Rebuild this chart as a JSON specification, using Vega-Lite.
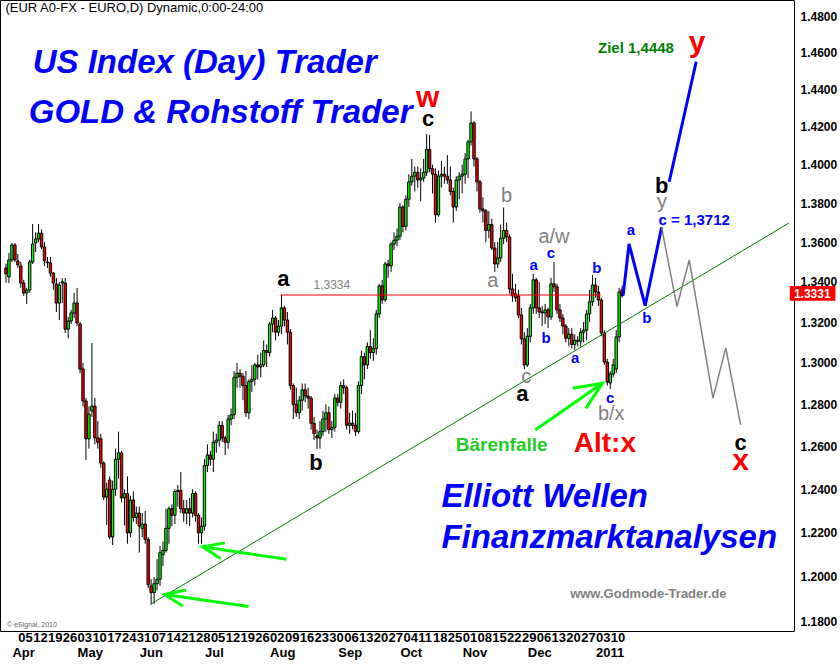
{
"$schema":"https://vega.github.io/schema/vega-lite/v6.json",
"width":794,"height":631,
"autosize":{"type":"none"},
"padding":{"left":0,"top":0,"right":46,"bottom":34},
"background":"white",
"config":{"view":{"stroke":"black","strokeWidth":1},"font":"Liberation Sans","text":{"font":"Liberation Sans"}},
"datasets":{
"candles":[
{"i":1,"o":1.347,"h":1.349,"l":1.3395,"c":1.344},
{"i":2,"o":1.3424,"h":1.3545,"l":1.3394,"c":1.351},
{"i":3,"o":1.351,"h":1.3596,"l":1.35,"c":1.3586},
{"i":4,"o":1.3586,"h":1.3596,"l":1.35,"c":1.351},
{"i":5,"o":1.3505,"h":1.354,"l":1.347,"c":1.3485},
{"i":6,"o":1.348,"h":1.35,"l":1.337,"c":1.3394},
{"i":7,"o":1.3394,"h":1.341,"l":1.333,"c":1.3344},
{"i":8,"o":1.3344,"h":1.337,"l":1.329,"c":1.3359},
{"i":9,"o":1.3359,"h":1.351,"l":1.3345,"c":1.35},
{"i":10,"o":1.35,"h":1.3693,"l":1.349,"c":1.3591},
{"i":11,"o":1.3596,"h":1.365,"l":1.355,"c":1.3616},
{"i":12,"o":1.3616,"h":1.3693,"l":1.36,"c":1.3646},
{"i":13,"o":1.3646,"h":1.3665,"l":1.3565,"c":1.3576},
{"i":14,"o":1.3576,"h":1.36,"l":1.348,"c":1.3505},
{"i":15,"o":1.35,"h":1.3525,"l":1.347,"c":1.3496},
{"i":16,"o":1.3495,"h":1.3525,"l":1.3425,"c":1.3444},
{"i":17,"o":1.3444,"h":1.345,"l":1.336,"c":1.3394},
{"i":18,"o":1.3389,"h":1.3419,"l":1.325,"c":1.3294},
{"i":19,"o":1.3294,"h":1.34,"l":1.321,"c":1.3384},
{"i":20,"o":1.3394,"h":1.3419,"l":1.3294,"c":1.34},
{"i":21,"o":1.3394,"h":1.3419,"l":1.3146,"c":1.3165},
{"i":22,"o":1.3165,"h":1.3225,"l":1.312,"c":1.3205},
{"i":23,"o":1.3205,"h":1.326,"l":1.319,"c":1.3245},
{"i":24,"o":1.3245,"h":1.3344,"l":1.322,"c":1.3294},
{"i":25,"o":1.3294,"h":1.3369,"l":1.318,"c":1.3195},
{"i":26,"o":1.319,"h":1.32,"l":1.295,"c":1.297},
{"i":27,"o":1.297,"h":1.3,"l":1.279,"c":1.2816},
{"i":28,"o":1.2816,"h":1.283,"l":1.2536,"c":1.2636},
{"i":29,"o":1.2636,"h":1.279,"l":1.259,"c":1.2754},
{"i":30,"o":1.2768,"h":1.3097,"l":1.274,"c":1.2792},
{"i":31,"o":1.2792,"h":1.283,"l":1.261,"c":1.2641},
{"i":32,"o":1.2641,"h":1.272,"l":1.259,"c":1.262},
{"i":33,"o":1.2636,"h":1.266,"l":1.25,"c":1.2522},
{"i":34,"o":1.2522,"h":1.253,"l":1.235,"c":1.2364},
{"i":35,"o":1.2364,"h":1.243,"l":1.2235,"c":1.2401},
{"i":36,"o":1.2443,"h":1.246,"l":1.217,"c":1.2181},
{"i":37,"o":1.2181,"h":1.244,"l":1.2144,"c":1.24},
{"i":38,"o":1.24,"h":1.259,"l":1.237,"c":1.254},
{"i":39,"o":1.254,"h":1.267,"l":1.245,"c":1.257},
{"i":40,"o":1.257,"h":1.258,"l":1.234,"c":1.236},
{"i":41,"o":1.236,"h":1.24,"l":1.2234,"c":1.238},
{"i":42,"o":1.238,"h":1.246,"l":1.215,"c":1.22},
{"i":43,"o":1.22,"h":1.237,"l":1.218,"c":1.235},
{"i":44,"o":1.235,"h":1.239,"l":1.225,"c":1.227},
{"i":45,"o":1.227,"h":1.232,"l":1.224,"c":1.229},
{"i":46,"o":1.229,"h":1.232,"l":1.211,"c":1.223},
{"i":47,"o":1.222,"h":1.229,"l":1.218,"c":1.224},
{"i":48,"o":1.224,"h":1.23,"l":1.215,"c":1.217},
{"i":49,"o":1.217,"h":1.218,"l":1.195,"c":1.1965},
{"i":50,"o":1.196,"h":1.199,"l":1.1876,"c":1.193},
{"i":51,"o":1.193,"h":1.2,"l":1.188,"c":1.197},
{"i":52,"o":1.197,"h":1.208,"l":1.194,"c":1.199},
{"i":53,"o":1.199,"h":1.214,"l":1.196,"c":1.211},
{"i":54,"o":1.21,"h":1.216,"l":1.205,"c":1.212},
{"i":55,"o":1.212,"h":1.231,"l":1.211,"c":1.222},
{"i":56,"o":1.222,"h":1.232,"l":1.215,"c":1.231},
{"i":57,"o":1.231,"h":1.233,"l":1.223,"c":1.228},
{"i":58,"o":1.228,"h":1.24,"l":1.224,"c":1.239},
{"i":59,"o":1.239,"h":1.242,"l":1.232,"c":1.2395},
{"i":60,"o":1.2395,"h":1.248,"l":1.229,"c":1.231},
{"i":61,"o":1.231,"h":1.235,"l":1.225,"c":1.229},
{"i":62,"o":1.229,"h":1.235,"l":1.224,"c":1.231},
{"i":63,"o":1.231,"h":1.236,"l":1.223,"c":1.229},
{"i":64,"o":1.229,"h":1.24,"l":1.227,"c":1.238},
{"i":65,"o":1.238,"h":1.239,"l":1.225,"c":1.228},
{"i":66,"o":1.228,"h":1.229,"l":1.215,"c":1.22},
{"i":67,"o":1.22,"h":1.227,"l":1.215,"c":1.223},
{"i":68,"o":1.223,"h":1.254,"l":1.221,"c":1.251},
{"i":69,"o":1.251,"h":1.261,"l":1.248,"c":1.256},
{"i":70,"o":1.256,"h":1.258,"l":1.251,"c":1.254},
{"i":71,"o":1.254,"h":1.267,"l":1.248,"c":1.262},
{"i":72,"o":1.262,"h":1.266,"l":1.257,"c":1.263},
{"i":73,"o":1.263,"h":1.272,"l":1.26,"c":1.27},
{"i":74,"o":1.27,"h":1.272,"l":1.262,"c":1.264},
{"i":75,"o":1.264,"h":1.265,"l":1.256,"c":1.262},
{"i":76,"o":1.262,"h":1.275,"l":1.259,"c":1.273},
{"i":77,"o":1.273,"h":1.278,"l":1.27,"c":1.275},
{"i":78,"o":1.275,"h":1.296,"l":1.273,"c":1.293},
{"i":79,"o":1.293,"h":1.3,"l":1.288,"c":1.295},
{"i":80,"o":1.295,"h":1.297,"l":1.288,"c":1.2935},
{"i":81,"o":1.2935,"h":1.295,"l":1.282,"c":1.289},
{"i":82,"o":1.289,"h":1.296,"l":1.274,"c":1.276},
{"i":83,"o":1.276,"h":1.292,"l":1.273,"c":1.291},
{"i":84,"o":1.291,"h":1.299,"l":1.286,"c":1.292},
{"i":85,"o":1.292,"h":1.3,"l":1.289,"c":1.299},
{"i":86,"o":1.299,"h":1.304,"l":1.292,"c":1.298},
{"i":87,"o":1.298,"h":1.305,"l":1.293,"c":1.299},
{"i":88,"o":1.299,"h":1.311,"l":1.298,"c":1.306},
{"i":89,"o":1.306,"h":1.309,"l":1.298,"c":1.305},
{"i":90,"o":1.305,"h":1.32,"l":1.303,"c":1.319},
{"i":91,"o":1.319,"h":1.326,"l":1.315,"c":1.322},
{"i":92,"o":1.322,"h":1.323,"l":1.311,"c":1.315},
{"i":93,"o":1.315,"h":1.321,"l":1.313,"c":1.318},
{"i":94,"o":1.318,"h":1.3334,"l":1.314,"c":1.327},
{"i":95,"o":1.327,"h":1.328,"l":1.318,"c":1.321},
{"i":96,"o":1.321,"h":1.325,"l":1.309,"c":1.315},
{"i":97,"o":1.315,"h":1.3165,"l":1.287,"c":1.289},
{"i":98,"o":1.289,"h":1.29,"l":1.273,"c":1.28},
{"i":99,"o":1.28,"h":1.288,"l":1.274,"c":1.276},
{"i":100,"o":1.276,"h":1.284,"l":1.273,"c":1.282},
{"i":101,"o":1.282,"h":1.29,"l":1.277,"c":1.287},
{"i":102,"o":1.287,"h":1.29,"l":1.281,"c":1.284},
{"i":103,"o":1.284,"h":1.288,"l":1.278,"c":1.283},
{"i":104,"o":1.283,"h":1.284,"l":1.268,"c":1.271},
{"i":105,"o":1.271,"h":1.274,"l":1.263,"c":1.266},
{"i":106,"o":1.265,"h":1.268,"l":1.2588,"c":1.264},
{"i":107,"o":1.264,"h":1.272,"l":1.259,"c":1.267},
{"i":108,"o":1.267,"h":1.277,"l":1.265,"c":1.273},
{"i":109,"o":1.273,"h":1.28,"l":1.267,"c":1.276},
{"i":110,"o":1.276,"h":1.279,"l":1.266,"c":1.268},
{"i":111,"o":1.268,"h":1.272,"l":1.264,"c":1.269},
{"i":112,"o":1.269,"h":1.285,"l":1.267,"c":1.283},
{"i":113,"o":1.283,"h":1.285,"l":1.279,"c":1.281},
{"i":114,"o":1.281,"h":1.291,"l":1.278,"c":1.289},
{"i":115,"o":1.289,"h":1.292,"l":1.285,"c":1.288},
{"i":116,"o":1.288,"h":1.289,"l":1.268,"c":1.27},
{"i":117,"o":1.27,"h":1.276,"l":1.266,"c":1.271},
{"i":118,"o":1.271,"h":1.277,"l":1.268,"c":1.27},
{"i":119,"o":1.27,"h":1.276,"l":1.265,"c":1.267},
{"i":120,"o":1.267,"h":1.291,"l":1.266,"c":1.289},
{"i":121,"o":1.289,"h":1.306,"l":1.285,"c":1.303},
{"i":122,"o":1.303,"h":1.305,"l":1.292,"c":1.299},
{"i":123,"o":1.299,"h":1.31,"l":1.297,"c":1.308},
{"i":124,"o":1.308,"h":1.316,"l":1.302,"c":1.305},
{"i":125,"o":1.305,"h":1.312,"l":1.301,"c":1.307},
{"i":126,"o":1.307,"h":1.326,"l":1.304,"c":1.324},
{"i":127,"o":1.324,"h":1.339,"l":1.322,"c":1.338},
{"i":128,"o":1.338,"h":1.341,"l":1.329,"c":1.331},
{"i":129,"o":1.331,"h":1.35,"l":1.33,"c":1.349},
{"i":130,"o":1.349,"h":1.351,"l":1.342,"c":1.348},
{"i":131,"o":1.348,"h":1.36,"l":1.345,"c":1.359},
{"i":132,"o":1.359,"h":1.365,"l":1.356,"c":1.361},
{"i":133,"o":1.361,"h":1.367,"l":1.358,"c":1.363},
{"i":134,"o":1.363,"h":1.38,"l":1.361,"c":1.378},
{"i":135,"o":1.378,"h":1.379,"l":1.365,"c":1.368},
{"i":136,"o":1.368,"h":1.384,"l":1.366,"c":1.382},
{"i":137,"o":1.382,"h":1.395,"l":1.378,"c":1.391},
{"i":138,"o":1.391,"h":1.403,"l":1.389,"c":1.394},
{"i":139,"o":1.394,"h":1.399,"l":1.386,"c":1.396},
{"i":140,"o":1.396,"h":1.399,"l":1.388,"c":1.392},
{"i":141,"o":1.392,"h":1.398,"l":1.381,"c":1.393},
{"i":142,"o":1.393,"h":1.403,"l":1.391,"c":1.396},
{"i":143,"o":1.396,"h":1.416,"l":1.394,"c":1.408},
{"i":144,"o":1.408,"h":1.4157,"l":1.396,"c":1.398},
{"i":145,"o":1.398,"h":1.4,"l":1.385,"c":1.395},
{"i":146,"o":1.395,"h":1.398,"l":1.37,"c":1.374},
{"i":147,"o":1.374,"h":1.397,"l":1.373,"c":1.394},
{"i":148,"o":1.394,"h":1.402,"l":1.388,"c":1.395},
{"i":149,"o":1.395,"h":1.399,"l":1.39,"c":1.394},
{"i":150,"o":1.394,"h":1.405,"l":1.39,"c":1.392},
{"i":151,"o":1.392,"h":1.399,"l":1.384,"c":1.386},
{"i":152,"o":1.386,"h":1.388,"l":1.37,"c":1.378},
{"i":153,"o":1.378,"h":1.394,"l":1.376,"c":1.392},
{"i":154,"o":1.392,"h":1.396,"l":1.382,"c":1.394},
{"i":155,"o":1.394,"h":1.4,"l":1.385,"c":1.395},
{"i":156,"o":1.395,"h":1.406,"l":1.39,"c":1.403},
{"i":157,"o":1.403,"h":1.413,"l":1.393,"c":1.412},
{"i":158,"o":1.412,"h":1.4282,"l":1.41,"c":1.422},
{"i":159,"o":1.422,"h":1.423,"l":1.399,"c":1.403},
{"i":160,"o":1.403,"h":1.404,"l":1.386,"c":1.391},
{"i":161,"o":1.391,"h":1.392,"l":1.375,"c":1.377},
{"i":162,"o":1.377,"h":1.383,"l":1.37,"c":1.376},
{"i":163,"o":1.376,"h":1.377,"l":1.36,"c":1.366},
{"i":164,"o":1.366,"h":1.376,"l":1.362,"c":1.369},
{"i":165,"o":1.369,"h":1.372,"l":1.356,"c":1.357},
{"i":166,"o":1.357,"h":1.36,"l":1.345,"c":1.349},
{"i":167,"o":1.349,"h":1.36,"l":1.347,"c":1.352},
{"i":168,"o":1.352,"h":1.369,"l":1.35,"c":1.362},
{"i":169,"o":1.362,"h":1.3778,"l":1.359,"c":1.366},
{"i":170,"o":1.366,"h":1.37,"l":1.36,"c":1.3627},
{"i":171,"o":1.3627,"h":1.364,"l":1.334,"c":1.3364},
{"i":172,"o":1.3364,"h":1.344,"l":1.33,"c":1.333},
{"i":173,"o":1.334,"h":1.339,"l":1.33,"c":1.332},
{"i":174,"o":1.333,"h":1.336,"l":1.322,"c":1.3235},
{"i":175,"o":1.3235,"h":1.327,"l":1.309,"c":1.3117},
{"i":176,"o":1.3117,"h":1.315,"l":1.2969,"c":1.299},
{"i":177,"o":1.299,"h":1.317,"l":1.298,"c":1.313},
{"i":178,"o":1.313,"h":1.329,"l":1.31,"c":1.327},
{"i":179,"o":1.327,"h":1.344,"l":1.324,"c":1.341},
{"i":180,"o":1.341,"h":1.342,"l":1.324,"c":1.327},
{"i":181,"o":1.327,"h":1.34,"l":1.322,"c":1.325},
{"i":182,"o":1.325,"h":1.328,"l":1.318,"c":1.3245},
{"i":183,"o":1.3245,"h":1.329,"l":1.319,"c":1.326},
{"i":184,"o":1.326,"h":1.327,"l":1.317,"c":1.3225},
{"i":185,"o":1.3225,"h":1.342,"l":1.321,"c":1.339},
{"i":186,"o":1.339,"h":1.35,"l":1.335,"c":1.3375},
{"i":187,"o":1.3375,"h":1.339,"l":1.324,"c":1.326},
{"i":188,"o":1.326,"h":1.329,"l":1.32,"c":1.322},
{"i":189,"o":1.322,"h":1.324,"l":1.314,"c":1.318},
{"i":190,"o":1.318,"h":1.319,"l":1.31,"c":1.312},
{"i":191,"o":1.312,"h":1.317,"l":1.308,"c":1.314},
{"i":192,"o":1.314,"h":1.317,"l":1.307,"c":1.309},
{"i":193,"o":1.309,"h":1.314,"l":1.3063,"c":1.311},
{"i":194,"o":1.311,"h":1.313,"l":1.308,"c":1.3105},
{"i":195,"o":1.3105,"h":1.317,"l":1.308,"c":1.315},
{"i":196,"o":1.315,"h":1.32,"l":1.31,"c":1.316},
{"i":197,"o":1.316,"h":1.326,"l":1.311,"c":1.324},
{"i":198,"o":1.324,"h":1.336,"l":1.32,"c":1.33},
{"i":199,"o":1.33,"h":1.3435,"l":1.328,"c":1.3384},
{"i":200,"o":1.3384,"h":1.342,"l":1.332,"c":1.3349},
{"i":201,"o":1.3349,"h":1.338,"l":1.328,"c":1.3309},
{"i":202,"o":1.3309,"h":1.332,"l":1.313,"c":1.3146},
{"i":203,"o":1.3146,"h":1.316,"l":1.299,"c":1.3004},
{"i":204,"o":1.3004,"h":1.302,"l":1.289,"c":1.2907},
{"i":205,"o":1.2903,"h":1.296,"l":1.2873,"c":1.2946},
{"i":206,"o":1.2946,"h":1.302,"l":1.293,"c":1.299},
{"i":207,"o":1.297,"h":1.316,"l":1.295,"c":1.3127},
{"i":208,"o":1.3127,"h":1.337,"l":1.31,"c":1.3349},
{"i":209,"o":1.336,"h":1.338,"l":1.332,"c":1.3331}
]
},
"layer":[
{"data":{"name":"candles"},
 "mark":{"type":"rule","color":"black","strokeWidth":1},
 "encoding":{
  "x":{"field":"i","type":"quantitative","scale":{"domain":[0.6667,265.3333],"nice":false,"zero":false},
   "axis":{"orient":"bottom","values":[5,10,15,20,25,30,35,40,45,50,55,60,65,70,75,80,85,90,95,100,105,110,115,120,125,130,135,140,145,150,155,160,165,170,175,180,185,190,195,200,205],
   "labelExpr":"['05','12','19','26','03','10','17','24','31','07','14','21','28','05','12','19','26','02','09','16','23','30','06','13','20','27','04','11','18','25','01','08','15','22','29','06','13','20','27','03','10'][datum.value/5-1]",
   "labelAlign":"left","labelFontSize":13,"labelFontWeight":"bold","labelColor":"black","labelFont":"Liberation Sans","ticks":false,"domain":false,"grid":false,"labelPadding":0,"title":null,"labelOverlap":false,"labelFlush":false,"labelBound":false}},
  "y":{"field":"l","type":"quantitative","scale":{"type":"log","domain":[1.17601,1.48888],"nice":false},
   "axis":{"orient":"right","values":[1.18,1.2,1.22,1.24,1.26,1.28,1.3,1.32,1.34,1.36,1.38,1.4,1.42,1.44,1.46,1.48],"format":".4f","labelFontSize":12,"labelFontWeight":"bold","labelColor":"black","labelFont":"Liberation Sans","ticks":false,"domain":false,"grid":false,"labelPadding":6,"title":null,"labelAlign":"left","labelBaseline":"middle","labelOverlap":false,"labelFlush":false}},
  "y2":{"field":"h"}}},
{"data":{"name":"candles"},
 "mark":{"type":"bar","size":2.4,"stroke":"black","strokeWidth":1},
 "encoding":{
  "x":{"field":"i","type":"quantitative","scale":{"domain":[0.6667,265.3333],"nice":false,"zero":false},
   "axis":{"orient":"bottom","offset":15,"values":[3,25,46,68,90,113,134,155,177,200],
   "labelExpr":"['Apr','May','Jun','Jul','Aug','Sep','Oct','Nov','Dec','2011'][indexof([3,25,46,68,90,113,134,155,177,200],datum.value)]",
   "labelAlign":"left","labelFontSize":13,"labelFontWeight":"bold","labelColor":"black","labelFont":"Liberation Sans","ticks":false,"domain":false,"grid":false,"labelPadding":0,"title":null,"labelOverlap":false,"labelFlush":false,"labelBound":false}},
  "y":{"field":"o","type":"quantitative","scale":{"type":"log","domain":[1.17601,1.48888],"nice":false},"axis":null},
  "y2":{"field":"c"},
  "fill":{"condition":{"test":"datum.c >= datum.o","value":"#00ff00"},"value":"#ff0000"}}},
{"data":{"values":[{"i":93.67,"p":1.3334},{"i":201.67,"p":1.3334}]},
 "mark":{"type":"line","color":"#ff0000","strokeWidth":1},
 "encoding":{"x":{"field":"i","type":"quantitative","scale":{"domain":[0.6667,265.3333],"nice":false,"zero":false},"axis":null},
  "y":{"field":"p","type":"quantitative","scale":{"type":"log","domain":[1.17601,1.48888],"nice":false},"axis":null}}},
{"data":{"values":[{"i":50,"p":1.188},{"i":265.33,"p":1.3698}]},
 "mark":{"type":"line","color":"#008000","strokeWidth":1},
 "encoding":{"x":{"field":"i","type":"quantitative","scale":{"domain":[0.6667,265.3333],"nice":false,"zero":false},"axis":null},
  "y":{"field":"p","type":"quantitative","scale":{"type":"log","domain":[1.17601,1.48888],"nice":false},"axis":null}}},
{"data":{"values":[
 {"s":"a1","k":1,"i":82.9,"p":1.1868},{"s":"a1","k":2,"i":54.57,"p":1.1922},
 {"s":"a2","k":1,"i":61.77,"p":1.1942},{"s":"a2","k":2,"i":54.57,"p":1.1922},{"s":"a2","k":3,"i":60.67,"p":1.1871},
 {"s":"b1","k":1,"i":95.67,"p":1.208},{"s":"b1","k":2,"i":67.33,"p":1.2136},
 {"s":"b2","k":1,"i":74.9,"p":1.2154},{"s":"b2","k":2,"i":67.33,"p":1.2136},{"s":"b2","k":3,"i":73.43,"p":1.2083},
 {"s":"c1","k":1,"i":179.67,"p":1.2678},{"s":"c1","k":2,"i":202.33,"p":1.2901},
 {"s":"c2","k":1,"i":192.33,"p":1.2877},{"s":"c2","k":2,"i":202.33,"p":1.2901},{"s":"c2","k":3,"i":196.77,"p":1.2781}]},
 "mark":{"type":"line","color":"#00ff00","strokeWidth":3},
 "encoding":{"x":{"field":"i","type":"quantitative","scale":{"domain":[0.6667,265.3333],"nice":false,"zero":false},"axis":null},
  "y":{"field":"p","type":"quantitative","scale":{"type":"log","domain":[1.17601,1.48888],"nice":false},"axis":null},
  "detail":{"field":"s"},"order":{"field":"k","type":"quantitative"}}},
{"data":{"values":[
 {"s":"1","k":1,"i":209.33,"p":1.3331},{"s":"1","k":2,"i":211.33,"p":1.3591},{"s":"1","k":3,"i":216.78,"p":1.3281},{"s":"1","k":4,"i":222.33,"p":1.3676},
 {"s":"2","k":1,"i":224.9,"p":1.3911},{"s":"2","k":2,"i":234,"p":1.4549}]},
 "mark":{"type":"line","color":"#0000ff","strokeWidth":3},
 "encoding":{"x":{"field":"i","type":"quantitative","scale":{"domain":[0.6667,265.3333],"nice":false,"zero":false},"axis":null},
  "y":{"field":"p","type":"quantitative","scale":{"type":"log","domain":[1.17601,1.48888],"nice":false},"axis":null},
  "detail":{"field":"s"},"order":{"field":"k","type":"quantitative"}}},
{"data":{"values":[
 {"k":1,"i":222.33,"p":1.3676},{"k":2,"i":227.5,"p":1.3277},{"k":3,"i":231.67,"p":1.351},{"k":4,"i":239.67,"p":1.283},{"k":5,"i":244,"p":1.3073},{"k":6,"i":249,"p":1.2702}]},
 "mark":{"type":"line","color":"#808080","strokeWidth":1.5},
 "encoding":{"x":{"field":"i","type":"quantitative","scale":{"domain":[0.6667,265.3333],"nice":false,"zero":false},"axis":null},
  "y":{"field":"p","type":"quantitative","scale":{"type":"log","domain":[1.17601,1.48888],"nice":false},"axis":null},
  "order":{"field":"k","type":"quantitative"}}},
{"data":{"values":[{"i":0.8,"p":1.4822,"t":"(EUR A0-FX - EURO,D) Dynamic,0:00-24:00"}]},
 "mark":{"type":"text","align":"left","baseline":"alphabetic","fontSize":13,"color":"black"},
 "encoding":{"x":{"field":"i","type":"quantitative","scale":{"domain":[0.6667,265.3333],"nice":false,"zero":false},"axis":null},
  "y":{"field":"p","type":"quantitative","scale":{"type":"log","domain":[1.17601,1.48888],"nice":false},"axis":null},"text":{"field":"t"}}},
{"data":{"values":[
 {"i":10,"p":1.4488,"t":"US Index (Day) Trader"},
 {"i":8.67,"p":1.422,"t":"GOLD & Rohstoff Trader"},
 {"i":148,"p":1.2318,"t":"Elliott Wellen"},
 {"i":148,"p":1.213,"t":"Finanzmarktanalysen"}]},
 "mark":{"type":"text","align":"left","baseline":"alphabetic","fontSize":33,"fontWeight":"bold","fontStyle":"italic","color":"#0000ff"},
 "encoding":{"x":{"field":"i","type":"quantitative","scale":{"domain":[0.6667,265.3333],"nice":false,"zero":false},"axis":null},
  "y":{"field":"p","type":"quantitative","scale":{"type":"log","domain":[1.17601,1.48888],"nice":false},"axis":null},"text":{"field":"t"}}},
{"data":{"values":[
 {"i":143.33,"p":1.4305,"t":"w"},{"i":234.33,"p":1.4602,"t":"y"},{"i":249,"p":1.249,"t":"x"}]},
 "mark":{"type":"text","align":"center","baseline":"alphabetic","fontSize":30,"fontWeight":"bold","color":"#ff0000"},
 "encoding":{"x":{"field":"i","type":"quantitative","scale":{"domain":[0.6667,265.3333],"nice":false,"zero":false},"axis":null},
  "y":{"field":"p","type":"quantitative","scale":{"type":"log","domain":[1.17601,1.48888],"nice":false},"axis":null},"text":{"field":"t"}}},
{"data":{"values":[{"i":192.67,"p":1.2574,"t":"Alt:x"}]},
 "mark":{"type":"text","align":"left","baseline":"alphabetic","fontSize":28,"fontWeight":"bold","color":"#ff0000"},
 "encoding":{"x":{"field":"i","type":"quantitative","scale":{"domain":[0.6667,265.3333],"nice":false,"zero":false},"axis":null},
  "y":{"field":"p","type":"quantitative","scale":{"type":"log","domain":[1.17601,1.48888],"nice":false},"axis":null},"text":{"field":"t"}}},
{"data":{"values":[
 {"i":143.5,"p":1.4204,"t":"c"},{"i":94.67,"p":1.3379,"t":"a"},{"i":105.67,"p":1.249,"t":"b"},
 {"i":175.33,"p":1.2816,"t":"a"},{"i":222.33,"p":1.3852,"t":"b"},{"i":249,"p":1.2583,"t":"c"}]},
 "mark":{"type":"text","align":"center","baseline":"alphabetic","fontSize":22,"fontWeight":"bold","color":"black"},
 "encoding":{"x":{"field":"i","type":"quantitative","scale":{"domain":[0.6667,265.3333],"nice":false,"zero":false},"axis":null},
  "y":{"field":"p","type":"quantitative","scale":{"type":"log","domain":[1.17601,1.48888],"nice":false},"axis":null},"text":{"field":"t"}}},
{"data":{"values":[
 {"i":170,"p":1.3806,"t":"b"},{"i":165.33,"p":1.3374,"t":"a"},{"i":186,"p":1.3596,"t":"a/w"},
 {"i":176.67,"p":1.2903,"t":"c"},{"i":205.33,"p":1.2725,"t":"b/x"},{"i":222.5,"p":1.3775,"t":"y"}]},
 "mark":{"type":"text","align":"center","baseline":"alphabetic","fontSize":20,"color":"#808080"},
 "encoding":{"x":{"field":"i","type":"quantitative","scale":{"domain":[0.6667,265.3333],"nice":false,"zero":false},"axis":null},
  "y":{"field":"p","type":"quantitative","scale":{"type":"log","domain":[1.17601,1.48888],"nice":false},"axis":null},"text":{"field":"t"}}},
{"data":{"values":[
 {"i":179.17,"p":1.346,"t":"a"},{"i":185,"p":1.352,"t":"c"},{"i":183.33,"p":1.3097,"t":"b"},
 {"i":193.17,"p":1.3,"t":"a"},{"i":200.5,"p":1.3444,"t":"b"},{"i":205,"p":1.2807,"t":"c"},
 {"i":212,"p":1.3637,"t":"a"},{"i":217.33,"p":1.3195,"t":"b"},{"i":233.33,"p":1.3688,"t":"c = 1,3712"}]},
 "mark":{"type":"text","align":"center","baseline":"alphabetic","fontSize":15,"fontWeight":"bold","color":"#0000ff"},
 "encoding":{"x":{"field":"i","type":"quantitative","scale":{"domain":[0.6667,265.3333],"nice":false,"zero":false},"axis":null},
  "y":{"field":"p","type":"quantitative","scale":{"type":"log","domain":[1.17601,1.48888],"nice":false},"axis":null},"text":{"field":"t"}}},
{"data":{"values":[{"i":213.67,"p":1.4597,"t":"Ziel 1,4448"}]},
 "mark":{"type":"text","align":"center","baseline":"alphabetic","fontSize":15,"fontWeight":"bold","color":"#008000"},
 "encoding":{"x":{"field":"i","type":"quantitative","scale":{"domain":[0.6667,265.3333],"nice":false,"zero":false},"axis":null},
  "y":{"field":"p","type":"quantitative","scale":{"type":"log","domain":[1.17601,1.48888],"nice":false},"axis":null},"text":{"field":"t"}}},
{"data":{"values":[{"i":168.33,"p":1.2579,"t":"Bärenfalle"}]},
 "mark":{"type":"text","align":"center","baseline":"alphabetic","fontSize":19,"fontWeight":"bold","color":"#22cc22"},
 "encoding":{"x":{"field":"i","type":"quantitative","scale":{"domain":[0.6667,265.3333],"nice":false,"zero":false},"axis":null},
  "y":{"field":"p","type":"quantitative","scale":{"type":"log","domain":[1.17601,1.48888],"nice":false},"axis":null},"text":{"field":"t"}}},
{"data":{"values":[{"i":217.83,"p":1.1906,"t":"www.Godmode-Trader.de"}]},
 "mark":{"type":"text","align":"center","baseline":"alphabetic","fontSize":13,"fontWeight":"bold","color":"#808080"},
 "encoding":{"x":{"field":"i","type":"quantitative","scale":{"domain":[0.6667,265.3333],"nice":false,"zero":false},"axis":null},
  "y":{"field":"p","type":"quantitative","scale":{"type":"log","domain":[1.17601,1.48888],"nice":false},"axis":null},"text":{"field":"t"}}},
{"data":{"values":[{"i":111,"p":1.3364,"t":"1,3334"}]},
 "mark":{"type":"text","align":"center","baseline":"alphabetic","fontSize":12,"color":"#808080"},
 "encoding":{"x":{"field":"i","type":"quantitative","scale":{"domain":[0.6667,265.3333],"nice":false,"zero":false},"axis":null},
  "y":{"field":"p","type":"quantitative","scale":{"type":"log","domain":[1.17601,1.48888],"nice":false},"axis":null},"text":{"field":"t"}}},
{"data":{"values":[{"i":1.33,"p":1.1778,"t":"© eSignal, 2010"}]},
 "mark":{"type":"text","align":"left","baseline":"alphabetic","fontSize":7,"color":"#606060"},
 "encoding":{"x":{"field":"i","type":"quantitative","scale":{"domain":[0.6667,265.3333],"nice":false,"zero":false},"axis":null},
  "y":{"field":"p","type":"quantitative","scale":{"type":"log","domain":[1.17601,1.48888],"nice":false},"axis":null},"text":{"field":"t"}}},
{"data":{"values":[{"i":265.6,"i2":281,"p":1.3379,"p2":1.3305}]},
 "mark":{"type":"rect","color":"#ff0000"},
 "encoding":{"x":{"field":"i","type":"quantitative","scale":{"domain":[0.6667,265.3333],"nice":false,"zero":false},"axis":null},"x2":{"field":"i2"},
  "y":{"field":"p","type":"quantitative","scale":{"type":"log","domain":[1.17601,1.48888],"nice":false},"axis":null},"y2":{"field":"p2"}}},
{"data":{"values":[{"i":267,"p":1.3341,"t":"1.3331"}]},
 "mark":{"type":"text","align":"left","baseline":"middle","fontSize":12,"fontWeight":"bold","color":"white"},
 "encoding":{"x":{"field":"i","type":"quantitative","scale":{"domain":[0.6667,265.3333],"nice":false,"zero":false},"axis":null},
  "y":{"field":"p","type":"quantitative","scale":{"type":"log","domain":[1.17601,1.48888],"nice":false},"axis":null},"text":{"field":"t"}}}
],
"resolve":{"axis":{"x":"independent","y":"independent"}}
}
